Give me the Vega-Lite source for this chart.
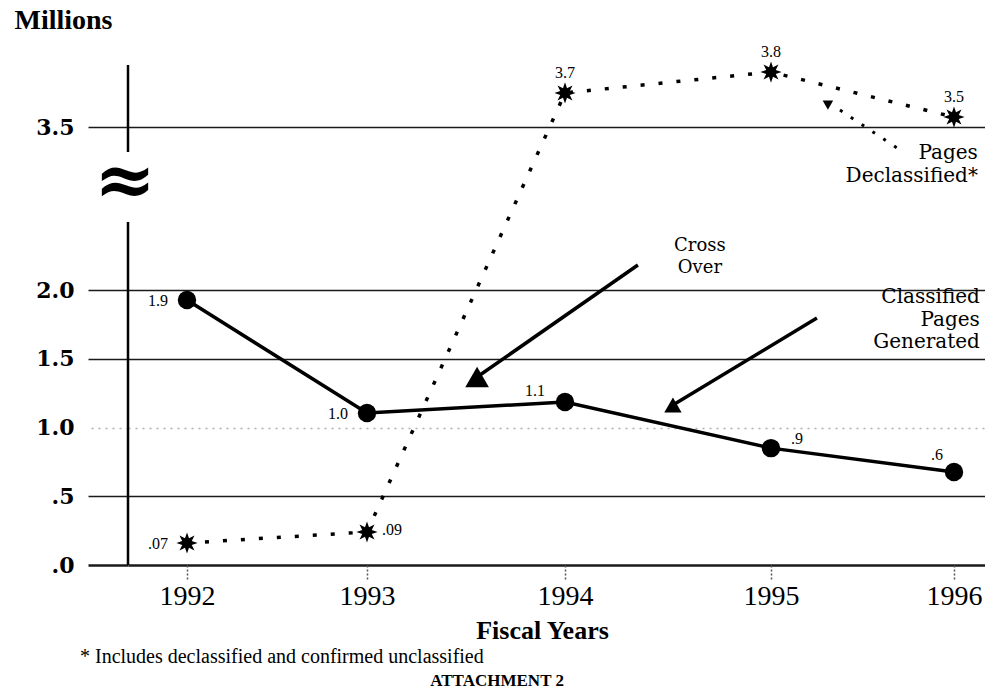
{
  "$schema": "https://vega.github.io/schema/vega-lite/v6.json",
  "width": 857,
  "height": 500,
  "autosize": {"type": "none"},
  "padding": {"left": 128, "top": 65, "right": 0, "bottom": 124},
  "background": "white",
  "config": {"view": {"stroke": null}, "text": {"font": "Liberation Serif", "color": "black"}},
  "datasets": {
    "pages": [
      {"year": 1992, "series": "Classified", "value": 1.927, "label": "1.9"},
      {"year": 1993, "series": "Classified", "value": 1.105, "label": "1.0"},
      {"year": 1994, "series": "Classified", "value": 1.185, "label": "1.1"},
      {"year": 1995, "series": "Classified", "value": 0.85, "label": ".9"},
      {"year": 1996, "series": "Classified", "value": 0.676, "label": ".6"},
      {"year": 1992, "series": "Declassified", "value": 0.16, "label": ".07"},
      {"year": 1993, "series": "Declassified", "value": 0.24, "label": ".09"},
      {"year": 1994, "series": "Declassified", "value": 3.665, "label": "3.7"},
      {"year": 1995, "series": "Declassified", "value": 3.766, "label": "3.8"},
      {"year": 1996, "series": "Declassified", "value": 3.548, "label": "3.5"}
    ]
  },
  "encoding": {
    "x": {
      "field": "year", "type": "quantitative",
      "scale": {"domain": [1991.672, 1992, 1993, 1994, 1995, 1996, 1996.17], "range": [0, 59, 239, 437, 643, 826, 857], "zero": false, "nice": false},
      "axis": {
        "values": [1992, 1993, 1994, 1995, 1996], "format": "d", "grid": false, "domain": false,
        "tickSize": 14, "tickColor": "#555555", "tickDash": [2, 2], "tickWidth": 1.5,
        "labelFont": "Liberation Serif", "labelFontSize": 28, "labelColor": "black", "labelPadding": 3,
        "labelFlush": false, "labelOverlap": false,
        "title": "Fiscal Years", "titleFont": "Liberation Serif", "titleFontSize": 26, "titleFontWeight": "bold",
        "titleColor": "black", "titlePadding": 7, "titleX": 414
      }
    },
    "y": {
      "field": "value", "type": "quantitative",
      "scale": {"domain": [0, 2, 3.5, 3.8], "range": [500, 225, 62, 0], "zero": false, "nice": false},
      "axis": {
        "values": [0, 0.5, 1, 1.5, 2, 3.5],
        "labelExpr": "datum.value === 0 ? '.0' : datum.value === 0.5 ? '.5' : format(datum.value, '.1f')",
        "grid": true,
        "gridColor": {"condition": {"test": "datum.value === 1", "value": "#b0b0b0"}, "value": "#1a1a1a"},
        "gridDash": {"condition": {"test": "datum.value === 1", "value": [2, 5]}, "value": []},
        "gridWidth": {"condition": {"test": "datum.value === 0", "value": 2.5}, "value": 1.5},
        "gridOpacity": 1,
        "domain": false,
        "tickSize": 40,
        "tickColor": {"condition": {"test": "datum.value === 1", "value": "#b0b0b0"}, "value": "#1a1a1a"},
        "tickDash": {"condition": {"test": "datum.value === 1", "value": [2, 5]}, "value": []},
        "tickWidth": {"condition": {"test": "datum.value === 0", "value": 2.5}, "value": 1.5},
        "labelFont": "DejaVu Serif", "labelFontSize": 22, "labelFontWeight": "bold", "labelColor": "black",
        "labelPadding": 14, "labelOverlap": false,
        "title": "Millions", "titleAngle": 0, "titleX": -114, "titleY": -45, "titleAlign": "left",
        "titleBaseline": "middle", "titleFont": "Liberation Serif", "titleFontSize": 28, "titleFontWeight": "bold",
        "titleColor": "black"
      }
    }
  },
  "layer": [
    {
      "data": {"values": [{"year": 1991.672, "value": 3.8, "value2": 3.27}, {"year": 1991.672, "value": 2.626, "value2": 0}]},
      "mark": {"type": "rule", "strokeWidth": 2.5, "color": "black"},
      "encoding": {"y2": {"field": "value2"}}
    },
    {
      "data": {"name": "pages"},
      "transform": [{"filter": "datum.series === 'Classified'"}],
      "mark": {"type": "line", "color": "black", "strokeWidth": 3.5}
    },
    {
      "data": {"name": "pages"},
      "transform": [{"filter": "datum.series === 'Classified'"}],
      "mark": {"type": "point", "shape": "circle", "filled": true, "size": 340, "color": "black", "opacity": 1}
    },
    {
      "data": {"name": "pages"},
      "transform": [{"filter": "datum.series === 'Declassified'"}],
      "mark": {"type": "line", "color": "black", "strokeWidth": 3.5, "strokeDash": [4, 14]}
    },
    {
      "data": {"name": "pages"},
      "transform": [{"filter": "datum.series === 'Declassified'"}],
      "mark": {"type": "point", "shape": "M1,0L0.45,0.19L0.707,0.707L0.19,0.45L0,1L-0.19,0.45L-0.707,0.707L-0.45,0.19L-1,0L-0.45,-0.19L-0.707,-0.707L-0.19,-0.45L0,-1L0.19,-0.45L0.707,-0.707L0.45,-0.19Z", "filled": true, "size": 450, "color": "black", "opacity": 1}
    },
    {
      "data": {"name": "pages"},
      "transform": [{"filter": "(datum.series === 'Classified' && datum.year <= 1993) || (datum.series === 'Declassified' && datum.year === 1992)"}],
      "mark": {"type": "text", "align": "right", "baseline": "middle", "dx": -19, "dy": 1, "fontSize": 16},
      "encoding": {"text": {"field": "label"}}
    },
    {
      "data": {"name": "pages"},
      "transform": [{"filter": "datum.series === 'Classified' && datum.year === 1994"}],
      "mark": {"type": "text", "align": "center", "baseline": "middle", "dx": -30, "dy": -11, "fontSize": 16},
      "encoding": {"text": {"field": "label"}}
    },
    {
      "data": {"name": "pages"},
      "transform": [{"filter": "datum.series === 'Classified' && datum.year === 1995"}],
      "mark": {"type": "text", "align": "center", "baseline": "middle", "dx": 26, "dy": -9, "fontSize": 16},
      "encoding": {"text": {"field": "label"}}
    },
    {
      "data": {"name": "pages"},
      "transform": [{"filter": "datum.series === 'Classified' && datum.year === 1996"}],
      "mark": {"type": "text", "align": "center", "baseline": "middle", "dx": -17, "dy": -17, "fontSize": 16},
      "encoding": {"text": {"field": "label"}}
    },
    {
      "data": {"name": "pages"},
      "transform": [{"filter": "datum.series === 'Declassified' && datum.year === 1993"}],
      "mark": {"type": "text", "align": "left", "baseline": "middle", "dx": 15, "dy": -2, "fontSize": 16},
      "encoding": {"text": {"field": "label"}}
    },
    {
      "data": {"name": "pages"},
      "transform": [{"filter": "datum.series === 'Declassified' && datum.year >= 1994"}],
      "mark": {"type": "text", "align": "center", "baseline": "middle", "dy": -20, "fontSize": 16},
      "encoding": {"text": {"field": "label"}}
    },
    {
      "data": {"values": [
        {"year": 1994.354, "value": 2.23, "year2": 1993.556, "value2": 1.367},
        {"year": 1995.251, "value": 1.796, "year2": 1994.524, "value2": 1.164}
      ]},
      "mark": {"type": "rule", "strokeWidth": 3.5, "color": "black"},
      "encoding": {"x2": {"field": "year2"}, "y2": {"field": "value2"}}
    },
    {
      "data": {"values": [{"year": 1995.377, "value": 3.582, "year2": 1995.689, "value2": 3.307}]},
      "mark": {"type": "rule", "strokeWidth": 3, "color": "black", "strokeDash": [3, 10]},
      "encoding": {"x2": {"field": "year2"}, "y2": {"field": "value2"}}
    },
    {
      "data": {"values": [{"year": 1993.556, "value": 1.367}]},
      "mark": {"type": "point", "shape": "triangle-up", "filled": true, "size": 560, "color": "black", "opacity": 1}
    },
    {
      "data": {"values": [{"year": 1994.524, "value": 1.164}]},
      "mark": {"type": "point", "shape": "triangle-up", "filled": true, "size": 300, "color": "black", "opacity": 1}
    },
    {
      "data": {"values": [{"year": 1995.311, "value": 3.606}]},
      "mark": {"type": "point", "shape": "triangle-down", "filled": true, "size": 110, "color": "black", "opacity": 1}
    },
    {
      "data": {"values": [
        {"year": 1994.655, "value": 2.405, "label": "Cross"},
        {"year": 1994.655, "value": 2.2, "label": "Over"}
      ]},
      "mark": {"type": "text", "align": "center", "baseline": "middle", "font": "DejaVu Serif", "fontSize": 18},
      "encoding": {"text": {"field": "label"}}
    },
    {
      "data": {"values": [
        {"year": 1996.142, "value": 1.949, "label": "Classified"},
        {"year": 1996.142, "value": 1.782, "label": "Pages"},
        {"year": 1996.142, "value": 1.622, "label": "Generated"}
      ]},
      "mark": {"type": "text", "align": "right", "baseline": "middle", "font": "DejaVu Serif", "fontSize": 20},
      "encoding": {"text": {"field": "label"}}
    },
    {
      "data": {"values": [
        {"year": 1996.131, "value": 3.261, "label": "Pages"},
        {"year": 1996.131, "value": 3.049, "label": "Declassified*"}
      ]},
      "mark": {"type": "text", "align": "right", "baseline": "middle", "font": "DejaVu Serif", "fontSize": 20},
      "encoding": {"text": {"field": "label"}}
    },
    {
      "data": {"values": [{"year": 1991.655, "value": 2.985, "label": "≈"}]},
      "mark": {"type": "text", "align": "center", "baseline": "middle", "font": "DejaVu Serif", "fontWeight": "bold", "fontSize": 74},
      "encoding": {"text": {"field": "label"}}
    },
    {
      "data": {"values": [{"year": 1991.405, "value": -0.669, "label": "* Includes declassified and confirmed unclassified"}]},
      "mark": {"type": "text", "align": "left", "baseline": "middle", "fontSize": 20},
      "encoding": {"text": {"field": "label"}}
    },
    {
      "data": {"values": [{"year": 1993.657, "value": -0.844, "label": "ATTACHMENT 2"}]},
      "mark": {"type": "text", "align": "center", "baseline": "middle", "fontSize": 17, "fontWeight": "bold"},
      "encoding": {"text": {"field": "label"}}
    }
  ]
}
